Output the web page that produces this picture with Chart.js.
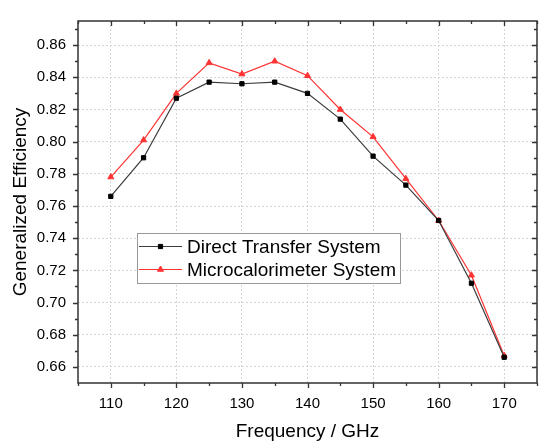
<!DOCTYPE html>
<html><head><meta charset="utf-8">
<script src="https://cdn.jsdelivr.net/npm/chart.js@4"></script>
<style>html,body{margin:0;padding:0;background:#fff}#wrap{width:542px;height:443px}</style>
</head><body><div id="wrap"><canvas id="c" width="542" height="443"></canvas></div>
<script>
const frequencies = [110, 115, 120, 125, 130, 135, 140, 145, 150, 155, 160, 165, 170];
const directTransfer = [0.766, 0.790, 0.827, 0.837, 0.836, 0.837, 0.830, 0.814, 0.791, 0.773, 0.751, 0.712, 0.666];
const microcalorimeter = [0.778, 0.801, 0.830, 0.849, 0.842, 0.850, 0.841, 0.820, 0.803, 0.777, 0.751, 0.717, 0.667];
const xTickValues = [110, 120, 130, 140, 150, 160, 170];
const xMinorValues = [105, 115, 125, 135, 145, 155, 165, 175];
const yTickValues = [0.66, 0.68, 0.70, 0.72, 0.74, 0.76, 0.78, 0.80, 0.82, 0.84, 0.86];
const yMinorValues = [0.65, 0.67, 0.69, 0.71, 0.73, 0.75, 0.77, 0.79, 0.81, 0.83, 0.85, 0.87];
const seriesNames = ['Direct Transfer System', 'Microcalorimeter System'];
const xTitle = 'Frequency / GHz';
const yTitle = 'Generalized Efficiency';

const FONT = 'Liberation Sans, Arial, sans-serif';
const AXIS_COLOR = '#333';

const framePlugin = {
  id: 'frame',
  afterDatasetsDraw(chart) {
    const ctx = chart.ctx, a = chart.chartArea;
    const xs = chart.scales.x, ys = chart.scales.y;
    ctx.save();
    ctx.strokeStyle = AXIS_COLOR;
    ctx.lineWidth = 1.5;
    ctx.beginPath();
    ctx.rect(a.left, a.top, a.right - a.left, a.bottom - a.top);
    ctx.stroke();
    ctx.lineWidth = 1.3;
    ctx.beginPath();
    const tick = (x1, y1, x2, y2) => { ctx.moveTo(x1, y1); ctx.lineTo(x2, y2); };
    xTickValues.forEach(v => { const p = Math.round(xs.getPixelForValue(v)) + 0.5;
      tick(p, a.bottom, p, a.bottom + 5); tick(p, a.top, p, a.top + 5); });
    xMinorValues.forEach(v => { const p = Math.round(xs.getPixelForValue(v)) + 0.5;
      tick(p, a.bottom, p, a.bottom + 3); tick(p, a.top, p, a.top + 3); });
    yTickValues.forEach(v => { const p = Math.round(ys.getPixelForValue(v)) + 0.5;
      tick(a.left - 5, p, a.left, p); tick(a.right, p, a.right - 5, p); });
    yMinorValues.forEach(v => { const p = Math.round(ys.getPixelForValue(v)) + 0.5;
      if (p > a.top + 1 && p < a.bottom - 1) { tick(a.left - 3, p, a.left, p); tick(a.right, p, a.right - 3, p); } });
    ctx.stroke();
    ctx.restore();
  }
};

const legendPlugin = {
  id: 'boxLegend',
  afterDraw(chart) {
    const ctx = chart.ctx;
    const bx = 137, by = 233, bw = 263, bh = 50;
    ctx.save();
    ctx.fillStyle = '#fff';
    ctx.fillRect(bx, by, bw, bh);
    ctx.strokeStyle = '#999';
    ctx.lineWidth = 1;
    ctx.strokeRect(bx + 0.5, by + 0.5, bw, bh);
    const rows = [246.5, 269.5];
    chart.data.datasets.forEach((ds, i) => {
      const y = rows[i];
      ctx.strokeStyle = ds.borderColor;
      ctx.lineWidth = ds.borderWidth;
      ctx.beginPath(); ctx.moveTo(139, y); ctx.lineTo(182, y); ctx.stroke();
      ctx.fillStyle = ds.pointBackgroundColor;
      ctx.strokeStyle = ds.pointBorderColor;
      ctx.lineWidth = ds.pointBorderWidth;
      Chart.helpers.drawPoint(ctx, { pointStyle: ds.pointStyle, radius: ds.pointRadius, borderWidth: ds.pointBorderWidth, rotation: 0 }, 160.5, y);
      ctx.fillStyle = '#000';
      ctx.font = '19px ' + FONT;
      ctx.textBaseline = 'middle';
      ctx.textAlign = 'left';
      ctx.fillText(ds.label, 187, y + 1);
    });
    ctx.restore();
  }
};

new Chart(document.getElementById('c'), {
  type: 'line',
  data: {
    datasets: [
      { label: seriesNames[0], data: frequencies.map((f, i) => ({ x: f, y: directTransfer[i] })),
        borderColor: '#3c3c3c', borderWidth: 1.2, pointStyle: 'rect', pointRadius: 3,
        pointBackgroundColor: '#000', pointBorderColor: '#000', pointBorderWidth: 1 },
      { label: seriesNames[1], data: frequencies.map((f, i) => ({ x: f, y: microcalorimeter[i] })),
        borderColor: '#f33', borderWidth: 1.2, pointStyle: 'triangle', pointRadius: 3.5,
        pointBackgroundColor: '#f33', pointBorderColor: '#f33', pointBorderWidth: 1 }
    ]
  },
  options: {
    responsive: false, animation: false, devicePixelRatio: 1,
    layout: { padding: { top: 9, right: 1, left: 0, bottom: 0 } },
    plugins: { legend: { display: false }, tooltip: { enabled: false } },
    scales: {
      x: {
        type: 'linear', min: 105, max: 175,
        afterBuildTicks: s => { s.ticks = xTickValues.map(v => ({ value: v })); },
        afterFit: s => { s.height = 60; },
        ticks: { font: { family: FONT, size: 15 }, color: '#000', padding: 12, maxRotation: 0, autoSkip: false },
        grid: { drawTicks: false, color: '#d4d4d4', lineWidth: 1 },
        border: { display: false, dash: [2, 2] },
        title: { display: true, text: xTitle, color: '#000', font: { family: FONT, size: 19 }, padding: { top: 1, bottom: 0 } }
      },
      y: {
        type: 'linear', min: 0.65, max: 0.875,
        afterBuildTicks: s => { s.ticks = yTickValues.map(v => ({ value: v })); },
        afterFit: s => { s.width = 78; },
        ticks: { font: { family: FONT, size: 15 }, color: '#000', padding: 12, autoSkip: false, callback: v => Number(v).toFixed(2) },
        grid: { drawTicks: false, color: '#d4d4d4', lineWidth: 1 },
        border: { display: false, dash: [2, 2] },
        title: { display: true, text: yTitle, color: '#000', font: { family: FONT, size: 19 }, padding: { top: 9, bottom: 0 } }
      }
    }
  },
  plugins: [framePlugin, legendPlugin]
});
</script></body></html>
